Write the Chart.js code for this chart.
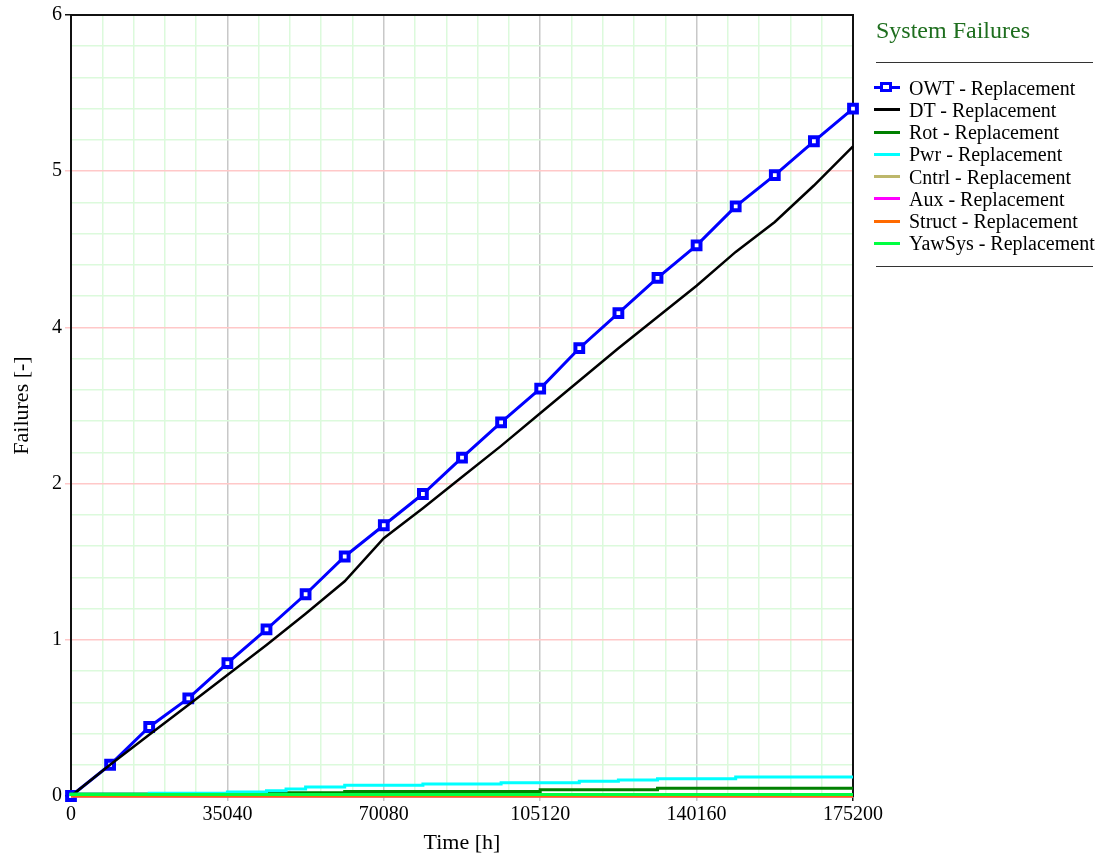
<!DOCTYPE html>
<html>
<head>
<meta charset="utf-8">
<title>System Failures</title>
<script src="https://cdn.jsdelivr.net/npm/chart.js@4.4.1/dist/chart.umd.min.js"></script>
<style>
  html, body { margin: 0; padding: 0; background: #fff; }
  #wrap { position: relative; width: 1110px; height: 863px; font-family: 'Liberation Serif', 'Times New Roman', serif; }
  #wrap canvas { position: absolute; left: 0; top: 0; }
  .lg-title { position: absolute; left: 876px; top: 15px; line-height: 30px; font-size: 24px; color: #1e6e1e; white-space: nowrap; }
  .lg-rule { position: absolute; left: 876px; width: 217px; height: 0; border-top: 1.5px solid #333; }
  .lg-item { position: absolute; left: 874px; height: 22px; line-height: 22px; font-size: 20px; white-space: nowrap; color: #000; }
  .lg-item .sw { position: absolute; left: 0; top: 9.5px; width: 26px; height: 3px; }
  .lg-item .mk { position: absolute; left: 6px; top: 5.5px; width: 6px; height: 4px; border: 3.5px solid #0000ff; background: #fff; }
  .lg-item span { position: absolute; left: 35px; top: 0; }
</style>
</head>
<body>
<div id="wrap">
  <canvas id="chart"></canvas>
</div>
<script>
/* ===== DATA ===== */
const timeHours   = [0, 8760, 17520, 26280, 35040, 43800, 52560, 61320, 70080, 78840, 87600,
                     96360, 105120, 113880, 122640, 131400, 140160, 148920, 157680, 166440, 175200];
const owtFailures = [0, 0.24, 0.53, 0.75, 1.02, 1.28, 1.55, 1.84, 2.08, 2.32, 2.60,
                     2.87, 3.13, 3.44, 3.71, 3.98, 4.23, 4.53, 4.77, 5.03, 5.28];
const dtFailures  = [0, 0.24, 0.47, 0.70, 0.93, 1.16, 1.40, 1.65, 1.98, 2.21, 2.45,
                     2.69, 2.94, 3.19, 3.44, 3.68, 3.92, 4.18, 4.41, 4.69, 4.99];

// step series: value holds from each time until the next one
const rotTimes    = [0, 43800, 61320, 105120, 131400, 166440, 175200];
const rotFailures = [0, 0.015, 0.025, 0.035, 0.048, 0.060, 0.060];
const pwrTimes    = [0, 17520, 35040, 43800, 48180, 52560, 61320, 78840, 96360, 113880, 122640, 131400, 148920, 157680, 175200];
const pwrFailures = [0, 0.013, 0.021, 0.031, 0.041, 0.054, 0.069, 0.082, 0.092, 0.102, 0.113, 0.123, 0.133, 0.146, 0.146];
const cntrlTimes  = [0, 175200];
const cntrlFailures = [0, 0];
const auxTimes    = [0, 175200];
const auxFailures = [0, 0];
const structTimes = [0, 175200];
const structFailures = [0, 0];
const yawTimes    = [0, 78840, 175200];
const yawFailures = [0, 0.012, 0.012];

const seriesNames  = ['OWT - Replacement', 'DT - Replacement', 'Rot - Replacement', 'Pwr - Replacement',
                      'Cntrl - Replacement', 'Aux - Replacement', 'Struct - Replacement', 'YawSys - Replacement'];
const seriesColors = ['#0000ff', '#000000', '#008000', '#00ffff', '#bdb76b', '#ff00ff', '#ff6a00', '#00ff40'];

const xMajorTicks = [0, 35040, 70080, 105120, 140160, 175200];
const xTickLabels = ['0', '35040', '70080', '105120', '140160', '175200'];
const yMajorTicks = [0, 1.2, 2.4, 3.6, 4.8, 6];
const yTickLabels = ['0', '1', '2', '4', '5', '6'];

const FONT = "'Liberation Serif', 'Times New Roman', serif";
const MINOR = 5;

/* ===== HELPERS ===== */
const pts = (xs, ys) => xs.map((x, i) => ({ x: x, y: ys[i] }));

function buildTicks(majors, labels) {
  const out = [];
  for (let i = 0; i < majors.length; i++) {
    out.push({ value: majors[i], major: true, lbl: labels[i], edge: i === 0 || i === majors.length - 1 });
    if (i < majors.length - 1) {
      const d = (majors[i + 1] - majors[i]) / MINOR;
      for (let k = 1; k < MINOR; k++) out.push({ value: majors[i] + k * d, major: false, lbl: '' });
    }
  }
  return out;
}

const gridColor = (majorCol) => c => (c.tick && c.tick.major) ? majorCol : '#dcfadc';
const tickColor = (majorCol) => c => !c.tick || !c.tick.major ? 'rgba(0,0,0,0)' : (c.tick.edge ? '#111' : majorCol);

/* ===== FRAME ===== */
const framePlugin = {
  id: 'frame',
  beforeDatasetsDraw(chart) {
    const { ctx, chartArea: a } = chart;
    ctx.save();
    ctx.strokeStyle = '#111';
    ctx.lineWidth = 2;
    ctx.strokeRect(a.left, a.top, a.right - a.left, a.bottom - a.top);
    ctx.restore();
  }
};

/* ===== CHART ===== */
function lineSet(i, data, extra) {
  return Object.assign({
    label: seriesNames[i], data: data,
    borderColor: seriesColors[i], backgroundColor: seriesColors[i],
    borderWidth: 3, pointRadius: 0, fill: false, tension: 0,
    order: seriesNames.length - i, clip: 8
  }, extra || {});
}

const wrap = document.getElementById('wrap');
const ctx = document.getElementById('chart');
ctx.width = 1110; ctx.height = 863;

new Chart(ctx, {
  type: 'line',
  data: {
    datasets: [
      lineSet(0, pts(timeHours, owtFailures), {
        borderWidth: 3, pointStyle: 'rect', pointRadius: 5.5, pointHoverRadius: 5.5,
        pointBorderWidth: 4, pointBackgroundColor: '#ffffff', pointBorderColor: '#0000ff'
      }),
      lineSet(1, pts(timeHours, dtFailures), { borderWidth: 2.5 }),
      lineSet(2, pts(rotTimes, rotFailures), { stepped: 'after' }),
      lineSet(3, pts(pwrTimes, pwrFailures), { stepped: 'after' }),
      lineSet(4, pts(cntrlTimes, cntrlFailures), { stepped: 'after' }),
      lineSet(5, pts(auxTimes, auxFailures), { stepped: 'after' }),
      lineSet(6, pts(structTimes, structFailures), { stepped: 'after' }),
      lineSet(7, pts(yawTimes, yawFailures), { stepped: 'after' })
    ]
  },
  options: {
    responsive: false, animation: false,
    layout: { padding: { left: 0, top: 15, right: 257, bottom: 0 } },
    plugins: { legend: { display: false }, tooltip: { enabled: false } },
    scales: {
      x: {
        type: 'linear', min: 0, max: 175200,
        afterBuildTicks: s => { s.ticks = buildTicks(xMajorTicks, xTickLabels); },
        afterFit: s => { s.height = 67; },
        border: { display: false },
        grid: { color: gridColor('#c8c8c8'), lineWidth: 1.5, tickLength: 5, tickColor: tickColor('#c8c8c8') },
        ticks: { autoSkip: false, maxRotation: 0, padding: 2, color: '#000',
          font: { family: FONT, size: 20 }, callback: (v, i, t) => t[i].lbl || '' },
        title: { display: true, text: 'Time [h]', color: '#000',
          font: { family: FONT, size: 22 }, padding: { top: 0, bottom: 7 } }
      },
      y: {
        type: 'linear', min: 0, max: 6,
        afterBuildTicks: s => { s.ticks = buildTicks(yMajorTicks, yTickLabels); },
        afterFit: s => { s.width = 71; },
        border: { display: false },
        grid: { color: gridColor('#ffc8c8'), lineWidth: 1.5, tickLength: 6, tickColor: tickColor('#ffc8c8') },
        ticks: { autoSkip: false, padding: 3, color: '#000',
          font: { family: FONT, size: 20 }, callback: (v, i, t) => t[i].lbl || '' },
        title: { display: true, text: 'Failures [-]', color: '#000',
          font: { family: FONT, size: 22 }, padding: { top: 9, bottom: 0 } }
      }
    }
  },
  plugins: [framePlugin]
});

/* ===== LEGEND ===== */
(function buildLegend() {
  const t = document.createElement('div');
  t.className = 'lg-title'; t.textContent = 'System Failures';
  wrap.appendChild(t);
  [63, 267].forEach(y => {
    const r = document.createElement('div');
    r.className = 'lg-rule'; r.style.top = (y - 1) + 'px';
    wrap.appendChild(r);
  });
  seriesNames.forEach((name, i) => {
    const it = document.createElement('div');
    it.className = 'lg-item';
    it.style.top = (87.7 + i * 22.23 - 11) + 'px';
    const sw = document.createElement('div');
    sw.className = 'sw'; sw.style.background = seriesColors[i];
    it.appendChild(sw);
    if (i === 0) { const mk = document.createElement('div'); mk.className = 'mk'; it.appendChild(mk); }
    const sp = document.createElement('span'); sp.textContent = name;
    it.appendChild(sp);
    wrap.appendChild(it);
  });
})();
</script>
</body>
</html>
